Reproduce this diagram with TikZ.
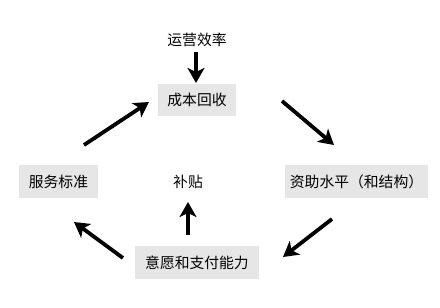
\documentclass[tikz,border=0pt]{standalone}
\usepackage{fontspec}
\setmainfont{Noto Sans CJK SC}
\usetikzlibrary{arrows.meta}
\begin{document}
\begin{tikzpicture}[x=1pt,y=-1pt,
  box/.style={fill=boxgray,inner sep=0pt,font=\fontsize{14.8}{17}\selectfont},
  plain/.style={inner sep=0pt,font=\fontsize{14.8}{17}\selectfont},
  arr/.style={line width=3.8pt,-{Stealth[length=15pt,width=17pt,inset=4pt]}}]
\definecolor{boxgray}{HTML}{E6E6E6}
\useasboundingbox[fill=white] (0,0) rectangle (440,308);
\node[box,minimum width=78pt,minimum height=32pt] (cb) at (197,100) {成本回收};
\node[plain] (yy) at (197,40) {运营效率};
\node[box,minimum width=79pt,minimum height=33pt] (fw) at (58.5,181.5) {服务标准};
\node[box,minimum width=143pt,minimum height=33pt] (zz) at (356.5,181.5) {资助水平（和结构）};
\node[plain] (bt) at (188,182) {补贴};
\node[box,minimum width=124pt,minimum height=33pt] (yw) at (197,262.5) {意愿和支付能力};
\coordinate (a1s) at (196,52); \coordinate (a1e) at (196,83);
\coordinate (a2s) at (84,145); \coordinate (a2e) at (149,102);
\coordinate (a3s) at (282,101); \coordinate (a3e) at (334,145);
\coordinate (a4s) at (332,219); \coordinate (a4e) at (283,257);
\coordinate (a5s) at (123,258); \coordinate (a5e) at (74,222);
\coordinate (a6s) at (188,235); \coordinate (a6e) at (188,202);
\draw[arr] (a1s) -- (a1e);
\draw[arr] (a2s) -- (a2e);
\draw[arr] (a3s) -- (a3e);
\draw[arr] (a4s) -- (a4e);
\draw[arr] (a5s) -- (a5e);
\draw[arr] (a6s) -- (a6e);
\end{tikzpicture}
\end{document}
